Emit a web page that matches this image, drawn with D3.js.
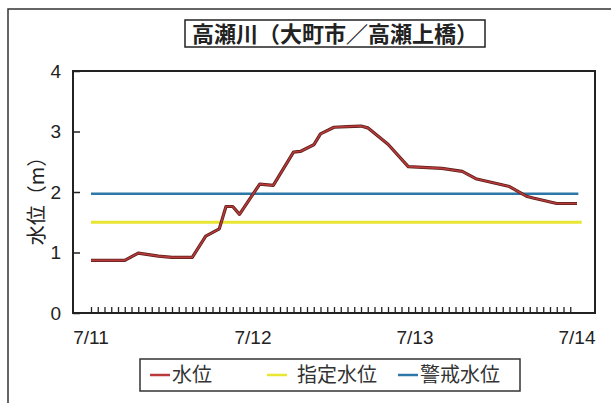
<!DOCTYPE html>
<html>
<head>
<meta charset="utf-8">
<script src="https://cdn.jsdelivr.net/npm/d3@7"></script>
<style>
  body { margin: 0; background: #fff; }
  svg { display: block; font-family: "Liberation Sans", Arial, "Noto Sans CJK JP", sans-serif; }
  .jp { font-family: "Noto Sans CJK JP", sans-serif; }
</style>
</head>
<body>
<svg id="chart"></svg>
<script>
// hours since 7/11 00:00 and water level (m)
const hours  = [0, 5, 7, 10, 12, 15, 17, 19, 20, 21, 22, 25, 27, 30, 31, 33, 34, 36, 38, 40, 41, 44, 47, 52, 55, 57, 62, 64.5, 65.5, 69, 72];
const levels = [0.87, 0.87, 0.99, 0.94, 0.92, 0.92, 1.27, 1.39, 1.76, 1.76, 1.63, 2.13, 2.11, 2.66, 2.67, 2.78, 2.96, 3.07, 3.08, 3.09, 3.06, 2.79, 2.42, 2.39, 2.34, 2.22, 2.09, 1.93, 1.90, 1.81, 1.81];
const designatedLevel = 1.5;   // 指定水位
const warningLevel = 1.97;     // 警戒水位
const dayLabels = ["7/11", "7/12", "7/13", "7/14"];
const yTicks = [0, 1, 2, 3, 4];
const legendNames = ["水位", "指定水位", "警戒水位"];
const legendColors = ["#b83a3a", "#e8e632", "#2d78a8"];

const width = 611, height = 403;
const svg = d3.select("#chart").attr("width", width).attr("height", height);

const x = d3.scaleLinear().domain([0, 72]).range([91, 577]);
const y = d3.scaleLinear().domain([0, 4]).range([313, 71]);
const left = 73, right = 595;

// outer frame (top and left only are visible)
svg.append("path").attr("d", "M8,403V9H611").attr("fill", "none").attr("stroke", "#333").attr("stroke-width", 1.5);

// title
svg.append("rect").attr("x", 185).attr("y", 20).attr("width", 300).attr("height", 27)
  .attr("fill", "none").attr("stroke", "#222").attr("stroke-width", 1.5);
svg.append("text").attr("class", "jp").attr("x", 335).attr("y", 42).attr("text-anchor", "middle")
  .attr("font-size", 22).attr("font-weight", "bold").attr("fill", "#222")
  .text("高瀬川（大町市／高瀬上橋）");

// plot frame
svg.append("rect").attr("x", left).attr("y", y(4)).attr("width", right - left).attr("height", y(0) - y(4))
  .attr("fill", "none").attr("stroke", "#222").attr("stroke-width", 2);

// y axis
const yAxis = d3.axisLeft(y).tickValues(yTicks).tickSize(-7).tickPadding(12).tickFormat(d3.format("d"));
const gy = svg.append("g").attr("transform", `translate(${left},0)`).call(yAxis);
gy.select(".domain").remove();
gy.selectAll("text").attr("font-size", 19).attr("fill", "#222");
gy.selectAll("line").attr("stroke", "#222").attr("stroke-width", 1.5);

svg.append("text").attr("class", "jp")
  .attr("transform", "translate(44,196) rotate(-90)")
  .attr("text-anchor", "middle").attr("font-size", 20).attr("fill", "#222")
  .text("水位（m）");

// x axis: hourly inward ticks
const xAxis = d3.axisBottom(x).tickValues(d3.range(0, 72)).tickSize(-5).tickFormat("");
const gx = svg.append("g").attr("transform", `translate(0,${y(0) - 1})`).call(xAxis);
gx.select(".domain").remove();
gx.selectAll("line").attr("stroke", "#222").attr("stroke-width", 1.3);

svg.append("g").selectAll("text").data(dayLabels).join("text")
  .attr("x", (d, i) => x(i * 24)).attr("y", 344)
  .attr("text-anchor", "middle").attr("font-size", 19).attr("fill", "#222")
  .text(d => d);

// reference lines
svg.append("line").attr("x1", x(0)).attr("x2", x(72.7))
  .attr("y1", y(designatedLevel)).attr("y2", y(designatedLevel))
  .attr("stroke", legendColors[1]).attr("stroke-width", 3);
svg.append("line").attr("x1", x(0)).attr("x2", x(72.2))
  .attr("y1", y(warningLevel)).attr("y2", y(warningLevel))
  .attr("stroke", legendColors[2]).attr("stroke-width", 2.5);

// water level line
const line = d3.line().x((d, i) => x(hours[i])).y(d => y(d));
svg.append("path").datum(levels).attr("d", line)
  .attr("fill", "none").attr("stroke", "#5a1f1a").attr("stroke-width", 3.2).attr("stroke-linejoin", "round");
svg.append("path").datum(levels).attr("d", line)
  .attr("fill", "none").attr("stroke", legendColors[0]).attr("stroke-width", 1.6).attr("stroke-linejoin", "round");

// legend
svg.append("rect").attr("x", 140).attr("y", 359).attr("width", 380).attr("height", 32)
  .attr("fill", "none").attr("stroke", "#333").attr("stroke-width", 1.5);
const legendX = [150, 267, 398];
const lg = svg.append("g").selectAll("g").data(legendNames).join("g")
  .attr("transform", (d, i) => `translate(${legendX[i]},375)`);
lg.append("line").attr("x1", 0).attr("x2", 20).attr("y1", 0).attr("y2", 0)
  .attr("stroke", (d, i) => legendColors[i]).attr("stroke-width", 2.5);
lg.append("text").attr("class", "jp").attr("x", (d, i) => i === 1 ? 30 : 22).attr("y", 7)
  .attr("font-size", 20).attr("fill", "#333").text(d => d);
</script>
</body>
</html>
